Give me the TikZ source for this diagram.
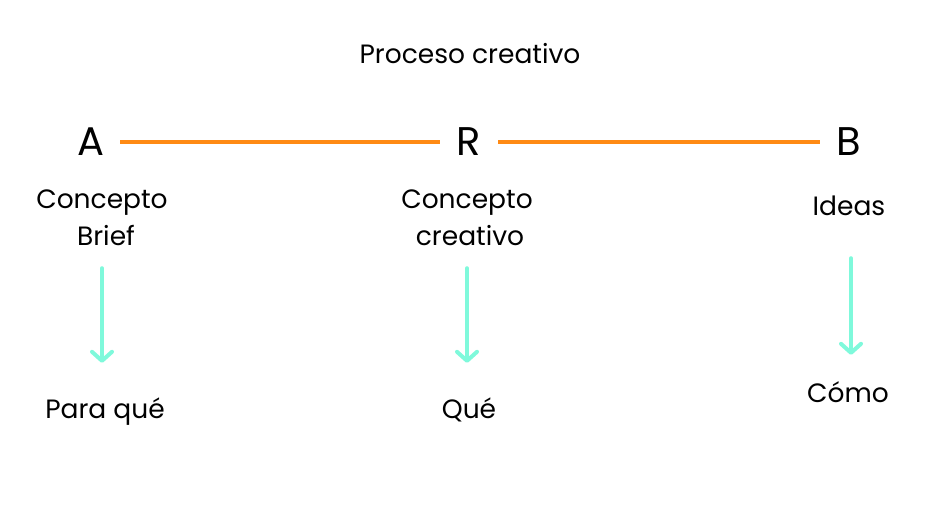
\documentclass[tikz,border=0pt]{standalone}
\usepackage{fontspec}
\setmainfont{Poppins}
\usepackage{tikz}
\usetikzlibrary{arrows.meta}
\usetikzlibrary{positioning}
\tikzset{flecha/.style = {draw=aqua, line width=4, line cap=round,
                          -{Straight Barb[length=9pt, width=20pt, round]}}}
\tikzset{letra/.style = {inner sep=0, minimum width=58, text height=29, text depth=3,
                         font=\fontsize{40}{48}\selectfont}}
\tikzset{texto/.style = {inner sep=0, anchor=base, text height=18, text depth=6,
                         font=\fontsize{26.5}{32}\selectfont}}
\definecolor{naranja}{RGB}{255, 138, 20}
\definecolor{aqua}{RGB}{127, 249, 219}

\begin{document}
\begin{tikzpicture}[x=1pt, y=-1pt]
          \useasboundingbox (0, 0) rectangle (940, 520);
          \node [texto] (titulo) at (470, 63) {Proceso creativo};

          \node [letra] (A) at (91, 142) {A};
          \node [letra] (R) at (469, 142) {R};
          \node [letra] (B) at (849, 142) {B};
          \draw [naranja, line width=4] (A.east) -- (R.west);
          \draw [naranja, line width=4] (R.east) -- (B.west);

          \node [texto] (concepto1) at (102, 208) {Concepto};
          \node [texto] (brief) at (106, 245) {Brief};
          \node [texto] (paraque) at (105, 418) {Para qué};
          \draw [flecha, shorten <=17, shorten >=37] (concepto1 |- brief.south) -- (concepto1 |- paraque.north);

          \node [texto] (concepto2) at (467, 208) {Concepto};
          \node [texto] (creativo) at (470, 245) {creativo};
          \node [texto] (que) at (469, 418) {Qué};
          \draw [flecha, shorten <=17, shorten >=37] (concepto2 |- creativo.south) -- (concepto2 |- que.north);

          \node [texto] (ideas) at (849, 215) {Ideas};
          \node [texto] (como) at (848, 402) {Cómo};
          \draw [flecha, shorten <=37, shorten >=29] ([xshift=2]ideas.south) -- ([xshift=2]ideas.south |- como.north);
        \end{tikzpicture}
\end{document}
